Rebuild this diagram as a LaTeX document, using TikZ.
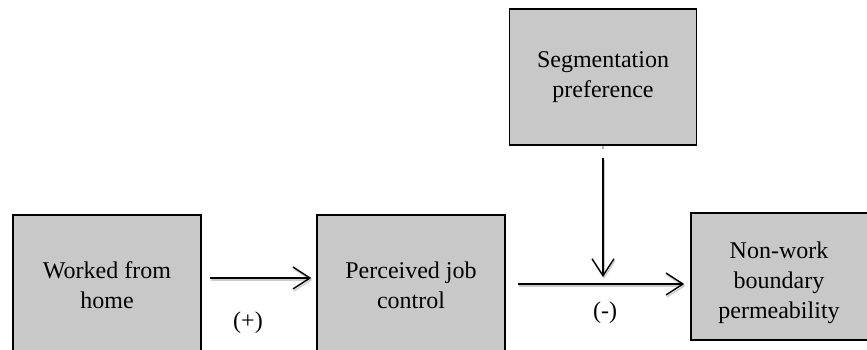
\documentclass[tikz,border=0pt]{standalone}
\usepackage{fontspec}
\setmainfont{Liberation Serif}
\usetikzlibrary{arrows.meta}
\definecolor{boxgray}{RGB}{200,200,200}
\tikzset{
  box/.style={draw=black, line width=1.5pt, fill=boxgray, rectangle,
    inner sep=0pt, align=center,
    font=\fontsize{24}{30}\selectfont},
  lbl/.style={inner sep=0pt, font=\fontsize{24}{30}\selectfont},
  link/.style={line width=1.4pt,
    -{Straight Barb[length=17pt,width=22pt,line width=1.4pt]},
    preaction={draw=black!20, line width=2.2pt,
      transform canvas={shift={(1pt,-2pt)}}}}
}
\begin{document}
\begin{tikzpicture}[x=1pt,y=-1pt]
\useasboundingbox (0,0) rectangle (867,350);
\clip (0,0) rectangle (867,350);

% variable boxes
\node[box, minimum width=188pt, minimum height=140pt] (wfh) at (107,285)
  {Worked from\\home};
\node[box, minimum width=188pt, minimum height=140pt] (pjc) at (411,285)
  {Perceived job\\control};
\node[box, minimum width=187pt, minimum height=136pt] (seg) at (603,77)
  {Segmentation\\preference};
\node[box, minimum width=200pt, minimum height=127pt] (nwb) at (791,276.5) {};
\node[lbl, align=center] (nwbtext) at (779,283)
  {Non-work\\boundary\\permeability};

% paths between the variables
\draw[link] ([xshift=8pt,yshift=7pt]wfh.east) --
  ([xshift=-5pt,yshift=7pt]pjc.west);
\draw[link] ([xshift=12pt,yshift=1pt]pjc.east) coordinate (mid)
  -- ([xshift=-6pt]mid -| nwb.west);
\draw[black!30, line width=1.4pt] (seg.south) -- ([yshift=-3pt]seg.south);
\draw[link] ([yshift=-12pt]seg.south) -- ([yshift=7pt]seg.south |- mid);

% signs of the effects
\node[lbl] (plus) at (248,323) {(+)};
\node[lbl] (minus) at (605,313) {(-)};
\end{tikzpicture}
\end{document}
